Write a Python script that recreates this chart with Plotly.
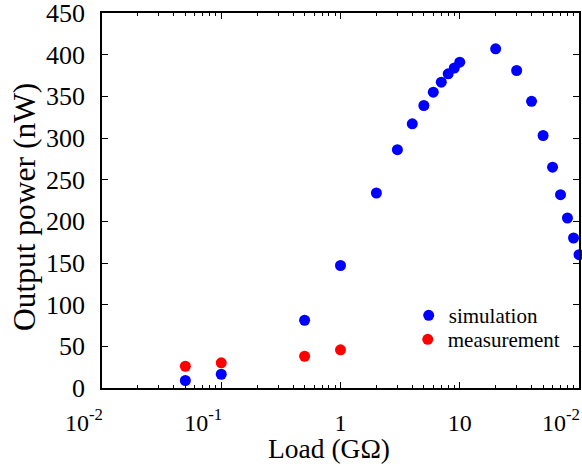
import plotly.graph_objects as go

# Data
sim_load = [0.05, 0.1, 0.5, 1, 2, 3, 4, 5, 6, 7, 8, 9, 10, 20, 30, 40, 50, 60, 70, 80, 90, 100]
sim_power = [9.0, 16.5, 81.3, 147, 234, 286, 317, 339, 355, 367, 377, 384, 391, 407, 381, 344, 303, 265, 232, 204, 180, 160]
meas_load = [0.05, 0.1, 0.5, 1]
meas_power = [26.1, 30.2, 38.1, 45.8]

x_tickvals = [0.01, 0.1, 1, 10, 100]
PAD = "\u00a0" * 6
x_ticktext = ["10<sup>-2</sup>" + PAD, "10<sup>-1</sup>" + PAD, "1", "10", "10<sup>-2</sup>" + PAD]
minor_vals = [m * d for d in [0.01, 0.1, 1, 10] for m in range(2, 10)]

x_title = "Load (GΩ)"
y_title = "Output power (nW)"

FONT = "Liberation Serif"

fig = go.Figure()
fig.add_trace(go.Scatter(x=sim_load, y=sim_power, mode="markers", name="simulation",
                         marker=dict(color="#0000ff", size=11), cliponaxis=False,
                         legend="legend"))
fig.add_trace(go.Scatter(x=meas_load, y=meas_power, mode="markers", name="measurement",
                         marker=dict(color="#ff0000", size=11), cliponaxis=False,
                         legend="legend2"))

leg_common = dict(xanchor="left", yanchor="middle", bgcolor="rgba(0,0,0,0)",
                  font=dict(size=21, family=FONT), itemwidth=30)

fig.update_layout(
    width=582, height=468,
    margin=dict(l=102, r=3, t=13, b=80, autoexpand=False),
    paper_bgcolor="white", plot_bgcolor="white",
    font=dict(family=FONT, size=24, color="black"),
    showlegend=True,
    legend=dict(x=0.643, y=0.193, **leg_common),
    legend2=dict(x=0.641, y=0.129, **leg_common),
    annotations=[
        dict(text=x_title, xref="paper", yref="paper", x=0.476, y=-0.161,
             xanchor="center", yanchor="middle", showarrow=False,
             font=dict(size=27.5, family=FONT)),
        dict(text=y_title, xref="paper", yref="paper", x=-0.161, y=0.483,
             xanchor="center", yanchor="middle", showarrow=False, textangle=-90,
             font=dict(size=31.5, family=FONT)),
    ],
)
fig.update_xaxes(
    type="log", range=[-2, 2], automargin=False,
    tickmode="array", tickvals=x_tickvals, ticktext=x_ticktext,
    ticks="inside", ticklen=6, tickwidth=1, tickcolor="black",
    showline=True, linecolor="black", linewidth=1.5, mirror="ticks",
    showgrid=False, zeroline=False,
    ticklabelstandoff=12, ticklabeloverflow="allow",
    minor=dict(tickmode="array", tickvals=minor_vals, ticks="inside", ticklen=3,
               tickcolor="black", tickwidth=1, showgrid=False),
    tickfont=dict(size=24, family=FONT),
)
fig.update_yaxes(
    range=[0, 450], tickmode="linear", tick0=0, dtick=50, automargin=False,
    ticks="inside", ticklen=6, tickwidth=1, tickcolor="black",
    showline=True, linecolor="black", linewidth=1.5, mirror="ticks",
    showgrid=False, zeroline=False,
    ticklabelstandoff=10, ticklabeloverflow="allow",
    tickfont=dict(size=26, family=FONT),
)

fig.write_html("out.html", config={"displayModeBar": False},
               post_script="document.body.style.margin='0';")
